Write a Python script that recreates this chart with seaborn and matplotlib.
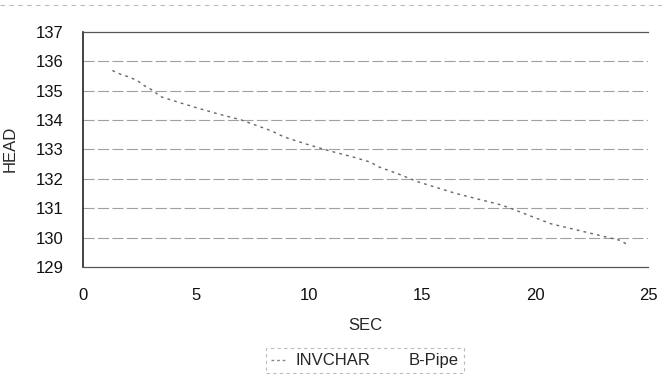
import matplotlib
matplotlib.use('Agg')
import matplotlib.pyplot as plt
from matplotlib.lines import Line2D
import pandas as pd
import seaborn as sns

# ====================================
# DATA
# ====================================

sec = [1.3, 1.7, 2.0, 2.4, 2.7, 3.1, 3.4, 4.1, 5.0, 6.0, 7.0, 8.3, 8.9,
       10.0, 11.0, 11.9, 12.7, 13.1, 14.0, 14.8, 16.5, 18.5, 18.9,
       20.7, 23.8, 24.1]
head = [135.68, 135.54, 135.47, 135.34, 135.17, 135.0, 134.8, 134.63,
        134.42, 134.2, 134.0, 133.64, 133.42, 133.15, 132.93, 132.75,
        132.57, 132.4, 132.15, 131.9, 131.5, 131.11, 131.0, 130.47,
        129.9, 129.75]

series_names = ['INVCHAR', 'B-Pipe']
x_ticks = [0, 5, 10, 15, 20, 25]
y_ticks = [129, 130, 131, 132, 133, 134, 135, 136, 137]

df = pd.DataFrame({'SEC': sec, 'HEAD': head})

# ====================================
# STYLE
# ====================================

sns.set_style('white')
plt.rcParams['font.family'] = ['Liberation Sans', 'DejaVu Sans']

FS = 12

fig = plt.figure(figsize=(6.62, 3.76), dpi=100)
ax = fig.add_axes([0.1254, 0.2899, 0.8535, 0.6258])

# ====================================
# PLOT
# ====================================

for yv in y_ticks[1:-1]:
    ax.axhline(yv, color='#a0a0a0', lw=0.8, dashes=(10, 3), zorder=1)

sns.lineplot(
    data=df,
    x='SEC',
    y='HEAD',
    ax=ax,
    color='#666666',
    lw=1.0,
    zorder=3
)
ax.lines[-1].set_dashes((2, 3))

ax.set_xlim(x_ticks[0], x_ticks[-1])
ax.set_ylim(y_ticks[0], y_ticks[-1])
ax.set_xticks(x_ticks)
ax.set_yticks(y_ticks)
ax.tick_params(axis='x', length=0, labelsize=FS, pad=15, colors='#111111')
ax.tick_params(axis='y', length=3, direction='in', width=0.8,
               labelsize=FS, pad=14, colors='#111111')

ax.set_xlabel('SEC', fontsize=FS, labelpad=11)
ax.set_ylabel('HEAD', fontsize=FS, labelpad=13)

for side in ['top', 'bottom']:
    ax.spines[side].set_color('#555555')
    ax.spines[side].set_linewidth(0.9)
ax.spines['left'].set_color('#222222')
ax.spines['left'].set_linewidth(1.2)
ax.spines['right'].set_visible(False)

# faint top border of the scanned frame
fig.add_artist(Line2D([0.0, 1.0], [0.988, 0.988], color='#bbbbbb',
                      lw=0.8, dashes=(4, 4), transform=fig.transFigure))

# ====================================
# LEGEND
# ====================================

handles = [
    Line2D([], [], color='#888888', lw=1.0, dashes=(2, 2)),
    Line2D([], [], color='white', lw=1.0),
]
leg = fig.legend(
    handles,
    series_names,
    loc='center',
    bbox_to_anchor=(0.551, 0.04),
    ncol=2,
    frameon=True,
    fontsize=FS,
    handlelength=0.9,
    handletextpad=0.6,
    columnspacing=0.8,
    borderpad=0.3,
    fancybox=False
)
leg.get_frame().set_edgecolor('#aaaaaa')
leg.get_frame().set_linestyle((0, (3, 3)))
leg.get_frame().set_linewidth(0.8)

plt.savefig('out.png', dpi=100)
plt.close()
